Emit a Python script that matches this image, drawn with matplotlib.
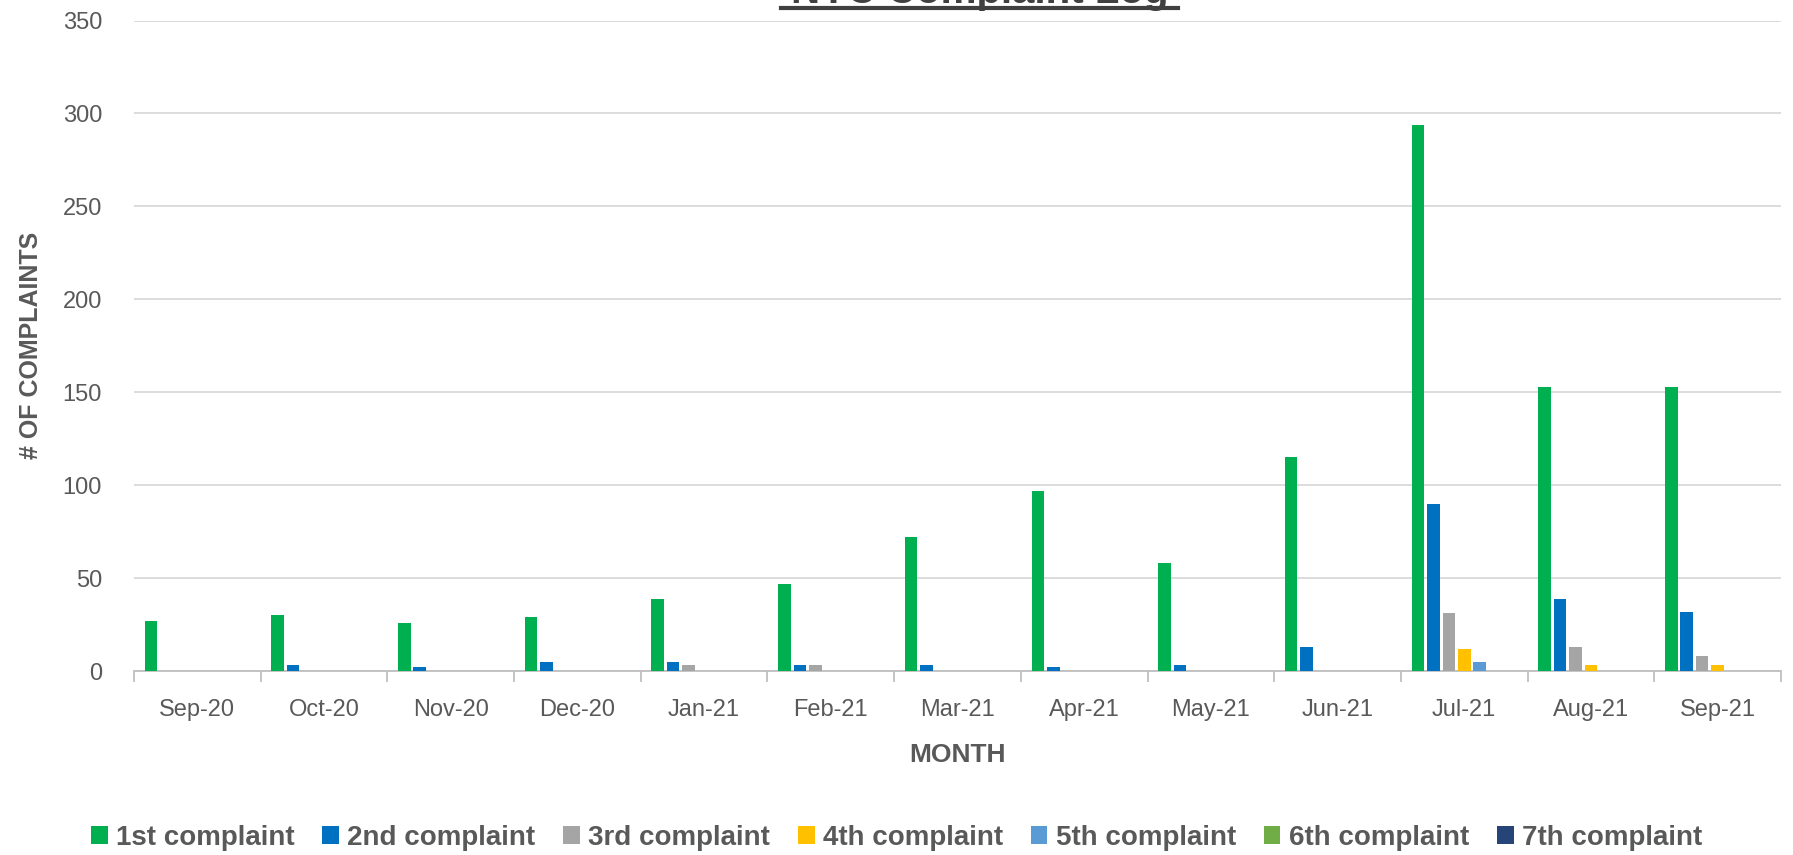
import matplotlib
matplotlib.use("Agg")
import matplotlib.pyplot as plt
import numpy as np
from matplotlib.lines import Line2D

months = ["Sep-20", "Oct-20", "Nov-20", "Dec-20", "Jan-21", "Feb-21", "Mar-21",
          "Apr-21", "May-21", "Jun-21", "Jul-21", "Aug-21", "Sep-21"]
series_names = ["1st complaint", "2nd complaint", "3rd complaint", "4th complaint",
                "5th complaint", "6th complaint", "7th complaint"]
first = [27, 30, 26, 29, 39, 47, 72, 97, 58, 115, 294, 153, 153]
second = [0, 3, 2, 5, 5, 3, 3, 2, 3, 13, 90, 39, 32]
third = [0, 0, 0, 0, 3, 3, 0, 0, 0, 0, 31, 13, 8]
fourth = [0, 0, 0, 0, 0, 0, 0, 0, 0, 0, 12, 3, 3]
fifth = [0, 0, 0, 0, 0, 0, 0, 0, 0, 0, 5, 0, 0]
sixth = [0] * 13
seventh = [0] * 13
colors = ["#00B050", "#0070C0", "#A5A5A5", "#FFC000", "#5B9BD5", "#70AD47", "#264478"]

fam = ["Liberation Sans Narrow", "Liberation Sans", "DejaVu Sans"]
plt.rcParams["font.family"] = ["Liberation Sans", "DejaVu Sans"]

fig = plt.figure(figsize=(17.93, 8.55), dpi=100)
ax = fig.add_axes([0.0747, 0.2152, 0.9186, 0.7608])

all_series = [first, second, third, fourth, fifth, sixth, seventh]
x = np.arange(len(months))
pitch = 0.122
width = 0.099
for i, (vals, name, c) in enumerate(zip(all_series, series_names, colors)):
    offs = (i - 3) * pitch
    ax.bar(x + offs, vals, width=width, color=c, label=name, zorder=3)

ax.set_xlim(-0.5, len(months) - 0.5)
ax.set_ylim(0, 350)
ax.set_yticks(np.arange(0, 351, 50))
ax.yaxis.grid(True, color="#D9D9D9", linewidth=1.3, zorder=0)
ax.set_axisbelow(True)
for s in ["top", "right", "left"]:
    ax.spines[s].set_visible(False)
ax.spines["bottom"].set_color("#BFBFBF")
ax.spines["bottom"].set_linewidth(1.3)

ax.set_xticks(x)
ax.set_xticklabels(months)
ax.set_xticks(np.arange(-0.5, len(months), 1), minor=True)
ax.tick_params(axis="x", which="major", length=0, pad=20, labelsize=17, labelcolor="#595959")
ax.tick_params(axis="x", which="minor", length=8, color="#BFBFBF", width=1.3)
ax.tick_params(axis="y", length=0, pad=23, labelsize=17, labelcolor="#595959")

ax.set_xlabel("MONTH", fontsize=19, fontweight="bold", color="#595959",
              family=fam, labelpad=16)
ax.set_ylabel("# OF COMPLAINTS", fontsize=18, fontweight="bold", color="#595959",
              family=fam, labelpad=14)

leg = fig.legend(loc="center", ncol=7, frameon=False,
                 handlelength=0.6, handleheight=0.6, handletextpad=0.3,
                 columnspacing=1.0, prop={"family": fam, "weight": "bold", "size": 20})
for t in leg.get_texts():
    t.set_color("#595959")
leg.set_bbox_to_anchor((0.5, 1 - 838 / 855), transform=fig.transFigure)

fig.text(980 / 1793, 1 - 3 / 855, "NYC Complaint Log", ha="center", va="baseline",
         fontsize=29, fontweight="bold", color="#404040")
fig.add_artist(Line2D([781 / 1793, 1178 / 1793], [1 - 8 / 855, 1 - 8 / 855],
                      color="#404040", linewidth=3, transform=fig.transFigure))

fig.savefig("out.png", dpi=100)
